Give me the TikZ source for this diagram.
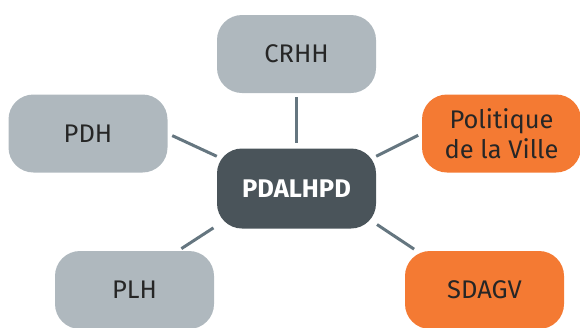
\documentclass[tikz,border=0pt]{standalone}
\usepackage{fontspec}
\setmainfont{Fira Sans}
\usepackage{tikz}

\definecolor{boxgray}{HTML}{AFB8BE}
\definecolor{boxdark}{HTML}{4A545A}
\definecolor{boxorange}{HTML}{F47A33}
\definecolor{linkgray}{HTML}{657680}
\definecolor{textdark}{HTML}{262626}

\tikzset{
    bloc/.style={rounded corners=25pt, minimum width=159pt, minimum height=78pt,
        inner sep=0pt, align=center, font=\fontsize{25.5}{30}\selectfont, text=textdark},
    grisbloc/.style={bloc, fill=boxgray},
    orangebloc/.style={bloc, fill=boxorange},
    lien/.style={draw=linkgray, line width=3pt}
}

\begin{document}
\begin{tikzpicture}[x=1pt, y=-1pt]

    \path[use as bounding box, clip] (0, 0) rectangle (580, 327);

    % le bloc central
    \node[bloc, fill=boxdark, text=white, minimum height=80pt, font=\fontsize{25.5}{30}\selectfont\bfseries] (pdalhpd) at (296.5, 188.5) {PDALHPD};

    \node[grisbloc] (crhh) at (296.5, 54) {CRHH};
    \node[grisbloc] (pdh) at (88, 133.5) {PDH};
    \node[grisbloc] (plh) at (134.5, 290) {PLH};
    \node[orangebloc] (politique) at (501.5, 133.5) {Politique\\de la Ville};
    \node[orangebloc] (sdagv) at (484.5, 290) {SDAGV};

    % les liens vers le centre
    \draw[lien, shorten <=4pt, shorten >=5pt] (crhh.south) -- (pdalhpd.north);
    \draw[lien, shorten <=5pt] (pdh.east) -- (pdalhpd.158);
    \draw[lien, shorten <=4pt] (politique.west) -- (pdalhpd.22);
    \draw[lien, shorten <=4pt, shorten >=4pt] (plh.42) -- (pdalhpd.205);
    \draw[lien, shorten <=3pt, shorten >=1pt] (sdagv.150) -- (pdalhpd.336);

\end{tikzpicture}
\end{document}
